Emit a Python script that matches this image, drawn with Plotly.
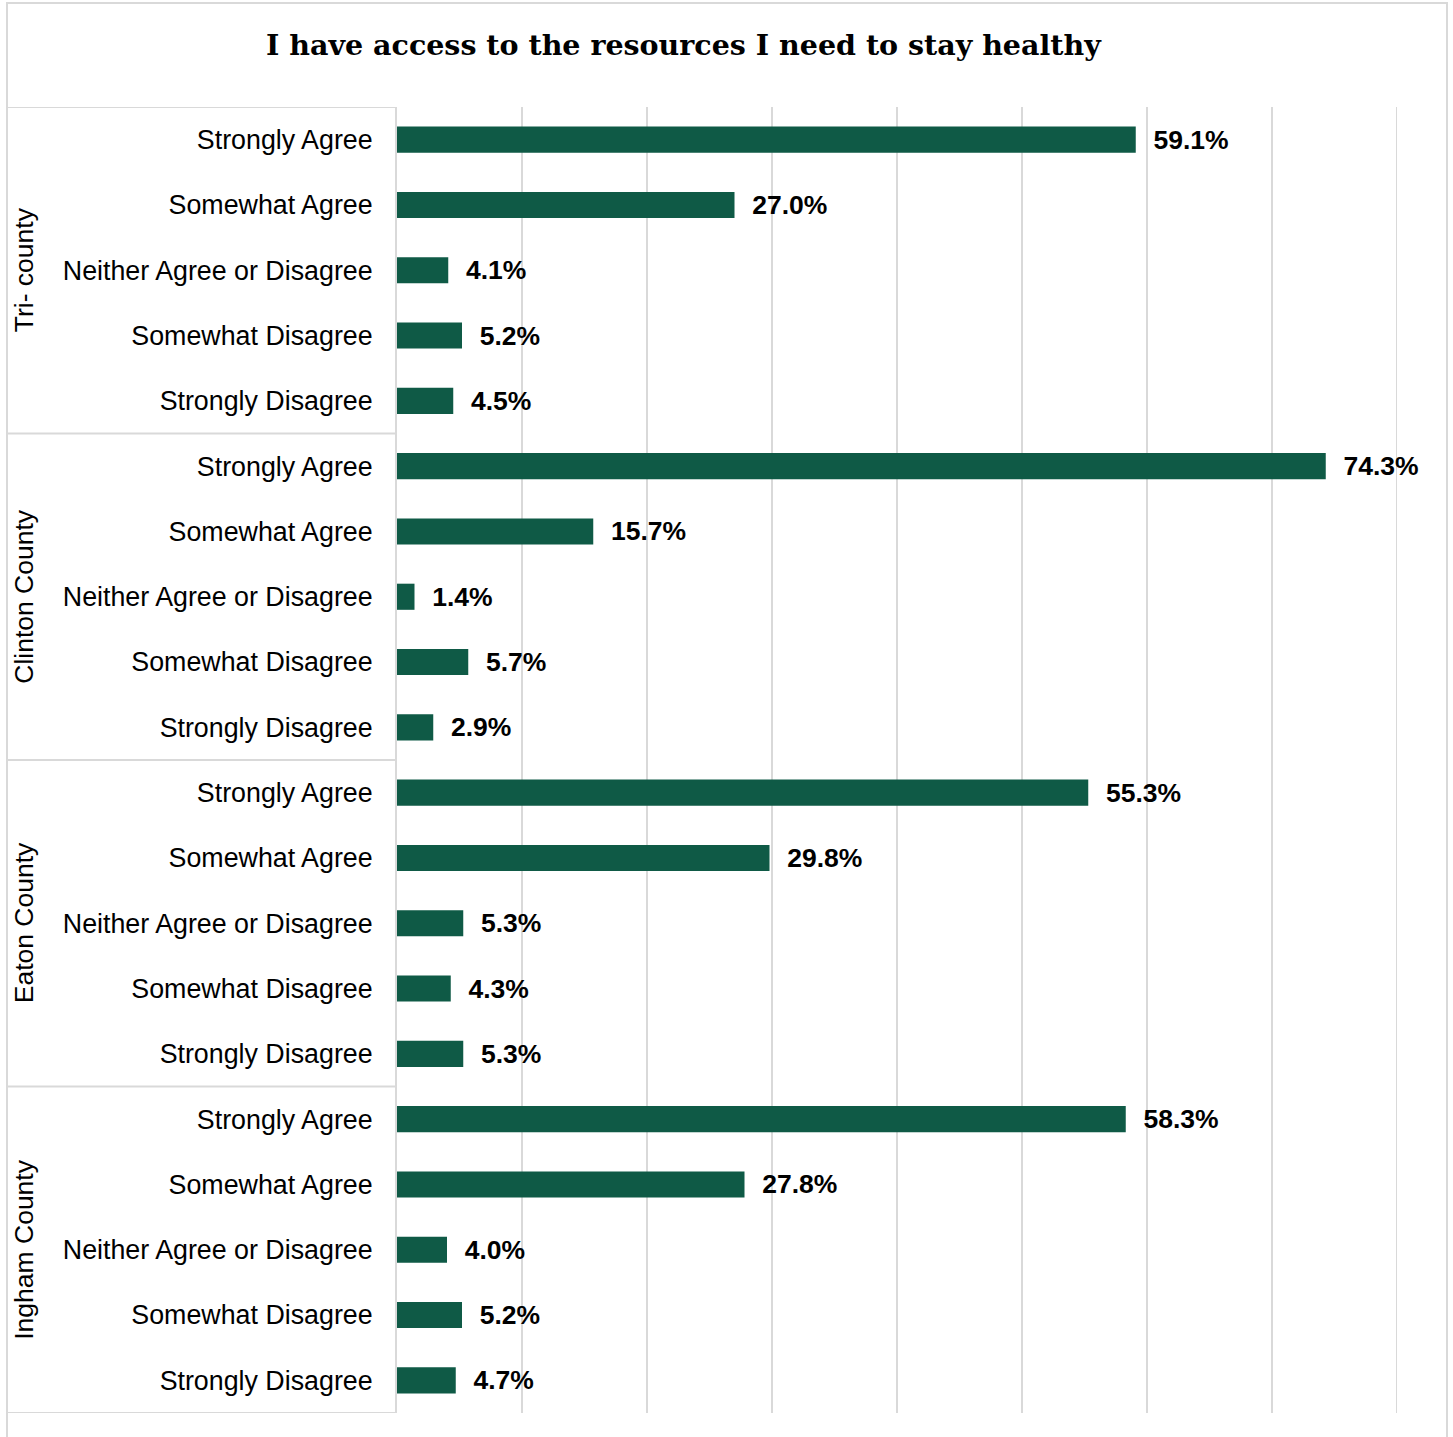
import plotly.graph_objects as go

# ---- data ----
groups = ["Tri- county", "Clinton County", "Eaton County", "Ingham County"]
responses = ["Strongly Agree", "Somewhat Agree", "Neither Agree or Disagree",
             "Somewhat Disagree", "Strongly Disagree"]
tri_county = [59.1, 27.0, 4.1, 5.2, 4.5]
clinton = [74.3, 15.7, 1.4, 5.7, 2.9]
eaton = [55.3, 29.8, 5.3, 4.3, 5.3]
ingham = [58.3, 27.8, 4.0, 5.2, 4.7]
title = "I have access to the resources I need to stay healthy"

series = [tri_county, clinton, eaton, ingham]

# ---- layout constants (pixels) ----
W, H = 1453, 1437
L, T = 397, 107
PR, PB = 1397, 1413   # plot right / bottom edges
R, B = W - PR, H - PB
PW, PH = PR - L, PB - T

def px_x(p):
    return (p - L) / PW

def px_y(p):
    return (PB - p) / PH

values, ypos, ticktext = [], [], []
k = 0
for g, vals in zip(groups, series):
    for r, v in zip(responses, vals):
        values.append(v)
        ypos.append(k)
        ticktext.append(r)
        k += 1
n = len(values)

GREEN = "#0F5A46"
GRID = "#D9D9D9"
FONT = "Liberation Sans, Arial, sans-serif"

fig = go.Figure()
fig.add_trace(go.Bar(
    x=values, y=ypos, orientation="h",
    marker=dict(color=GREEN, line=dict(width=0)),
    width=0.4,
    text=["\u00a0\u00a0" + f"{v:.1f}%" for v in values],
    textposition="outside",
    textfont=dict(family=FONT, size=26.5, color="#000000", weight="bold"),
    constraintext="none",
    cliponaxis=False,
    hoverinfo="skip",
))

shapes = []
# outer border
shapes.append(dict(type="rect", xref="paper", yref="paper",
                   x0=px_x(7), x1=px_x(1447), y0=px_y(1470), y1=px_y(3),
                   line=dict(color=GRID, width=2), layer="below"))
# gridline at the right end of the axis
shapes.append(dict(type="line", xref="x", yref="paper", x0=80, x1=80, y0=0, y1=1,
                   line=dict(color=GRID, width=2), layer="below"))
# group separators in the label area
for b in [-0.5, 4.5, 9.5, 14.5, 19.5]:
    shapes.append(dict(type="line", xref="paper", yref="y",
                       x0=px_x(7), x1=0, y0=b, y1=b,
                       line=dict(color=GRID, width=2), layer="below"))

annotations = []
for gi, g in enumerate(groups):
    annotations.append(dict(
        text=g, xref="paper", yref="y", x=px_x(24), y=gi * 5 + 2,
        textangle=-90, showarrow=False, xanchor="center", yanchor="middle",
        font=dict(family=FONT, size=26.5, color="#000000")))
annotations.append(dict(
    text=f"<b>{title}</b>", xref="paper", yref="paper",
    x=px_x(684), y=px_y(45), showarrow=False,
    xanchor="center", yanchor="middle",
    font=dict(family="DejaVu Serif, Georgia, serif", size=28.5, color="#000000")))

fig.update_layout(
    width=W, height=H,
    margin=dict(l=L, r=R, t=T, b=B, pad=0),
    paper_bgcolor="white", plot_bgcolor="white",
    showlegend=False,
    shapes=shapes, annotations=annotations,
    xaxis=dict(range=[0, 80], dtick=10, showgrid=True, gridcolor=GRID,
               gridwidth=2, showticklabels=False, zeroline=False,
               showline=False, fixedrange=True),
    yaxis=dict(range=[n - 0.5, -0.5], tickmode="array", tickvals=ypos,
               ticktext=ticktext, showgrid=False, zeroline=False,
               showline=True, linecolor=GRID, linewidth=2,
               ticks="", ticklabelstandoff=17,
               tickfont=dict(family=FONT, size=26.8, color="#000000"),
               fixedrange=True),
)

fig.write_html(
    "out.html",
    config={"displayModeBar": False},
    post_script="document.body.style.margin='0';document.body.style.overflow='hidden';",
)
